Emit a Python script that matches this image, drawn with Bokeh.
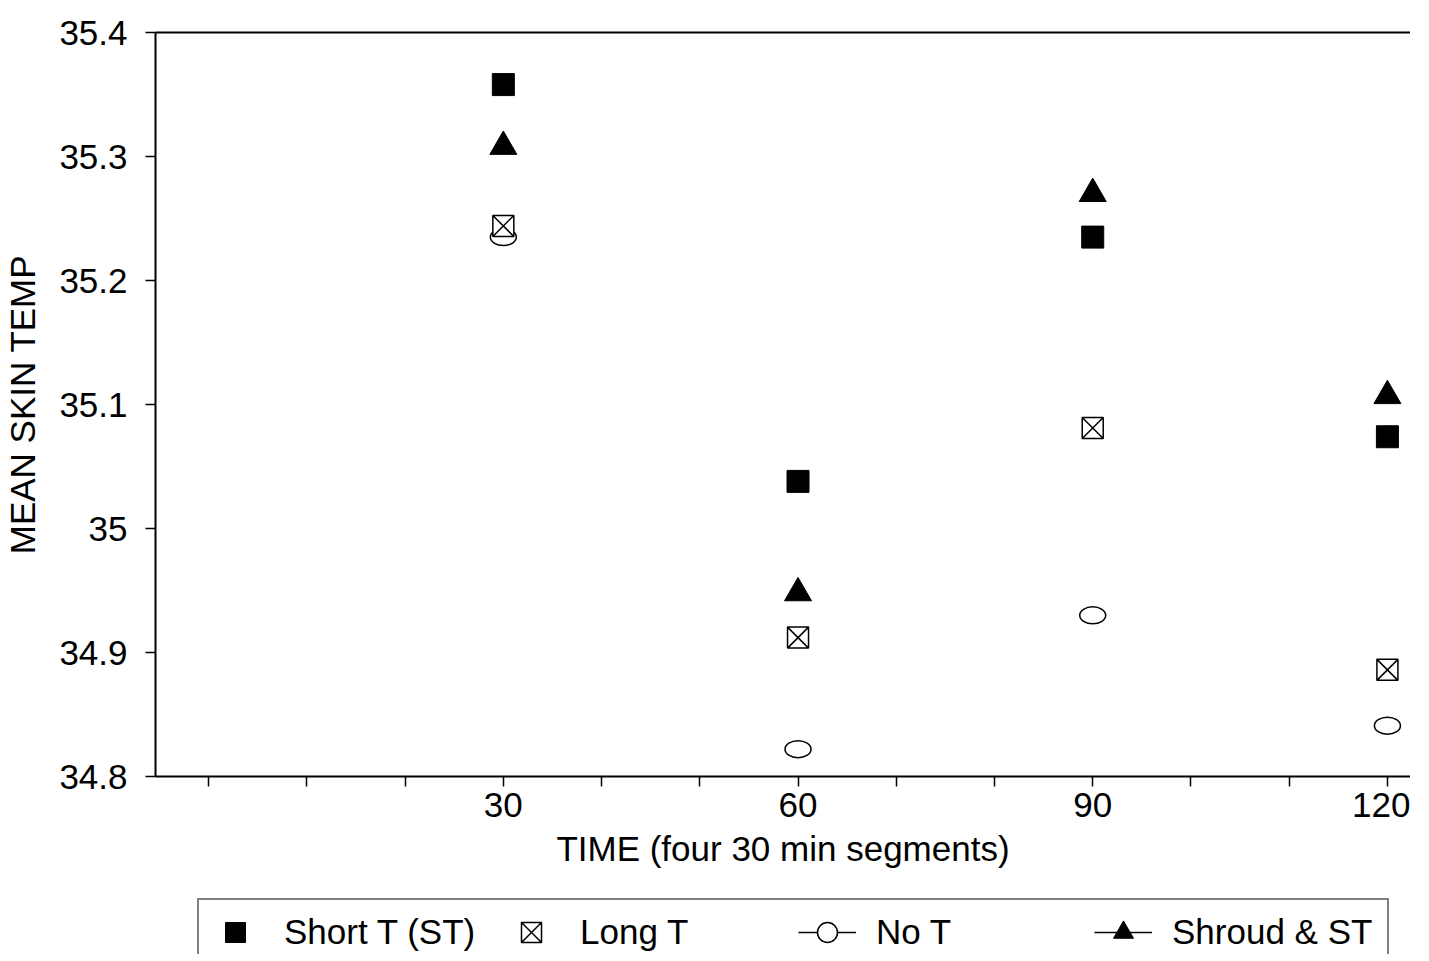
import numpy as np
from bokeh.plotting import figure
from bokeh.layouts import column
from bokeh.models import Range1d, FixedTicker, LinearAxis, Legend, LegendItem
from bokeh.embed import file_html
from bokeh.resources import INLINE

# ---- data ----
times = [30, 60, 90, 120]
short_t = [35.358, 35.038, 35.235, 35.074]
long_t = [35.244, 34.912, 35.081, 34.886]
no_t = [35.235, 34.822, 34.930, 34.841]
shroud_st = [35.308, 34.948, 35.270, 35.107]
series_labels = ["Short T (ST)", "Long T", "No T", "Shroud & ST"]

x_major_ticks = [30, 60, 90, 120]
x_minor_ticks = [0, 10, 20, 40, 50, 70, 80, 100, 110]
y_ticks = [34.8, 34.9, 35.0, 35.1, 35.2, 35.3, 35.4]
y_tick_labels = ["34.8", "34.9", "35", "35.1", "35.2", "35.3", "35.4"]

FONT = "Liberation Sans"
W = 1410

p = figure(width=W, height=889,
           x_range=Range1d(-5.41, 122.35), y_range=Range1d(34.8, 35.4),
           output_backend="svg", toolbar_location=None,
           min_border_left=150, min_border_right=0,
           min_border_top=32, min_border_bottom=113)
p.grid.visible = False
p.outline_line_color = None
p.background_fill_color = "white"
p.border_fill_color = "white"

xa = p.below[0]
ya = p.left[0]

# x axis
xa.ticker = FixedTicker(ticks=x_major_ticks, minor_ticks=x_minor_ticks)
xa.axis_line_width = 2
xa.axis_line_color = "black"
xa.major_tick_out = 10
xa.major_tick_in = 0
xa.minor_tick_out = 10
xa.minor_tick_in = 0
xa.major_tick_line_width = 1.5
xa.minor_tick_line_width = 1.5
xa.major_tick_line_color = "black"
xa.minor_tick_line_color = "black"
xa.major_label_text_font = FONT
xa.major_label_text_font_size = "35px"
xa.major_label_text_color = "black"
xa.major_label_standoff = 6
xa.axis_label = "TIME (four 30 min segments)"
xa.axis_label_text_font = FONT
xa.axis_label_text_font_size = "35px"
xa.axis_label_text_font_style = "normal"
xa.axis_label_text_color = "black"
xa.axis_label_standoff = 9

# y axis
ya.ticker = FixedTicker(ticks=y_ticks, minor_ticks=[])
ya.major_label_overrides = {t: s for t, s in zip(y_ticks, y_tick_labels)}
ya.axis_line_width = 2
ya.axis_line_color = "black"
ya.major_tick_out = 10
ya.major_tick_in = 0
ya.major_tick_line_width = 1.5
ya.major_tick_line_color = "black"
ya.minor_tick_line_color = None
ya.major_label_text_font = FONT
ya.major_label_text_font_size = "35px"
ya.major_label_text_color = "black"
ya.major_label_standoff = 18
ya.axis_label = "MEAN SKIN TEMP"
ya.axis_label_text_font = FONT
ya.axis_label_text_font_size = "35px"
ya.axis_label_text_font_style = "normal"
ya.axis_label_text_color = "black"
ya.axis_label_standoff = 14

# top border line
top = LinearAxis(ticker=FixedTicker(ticks=[]), axis_line_width=2, axis_line_color="black",
                 major_tick_line_color=None, minor_tick_line_color=None,
                 major_label_text_font_size="0px", major_tick_out=0, major_tick_in=0,
                 major_label_standoff=0)
p.add_layout(top, "above")

# glyphs
sq_style = dict(marker="square", size=22, fill_color="black", line_color="black")
sqx_style = dict(marker="square_x", size=21, fill_color="white", line_color="black", line_width=1.5)
ell_style = dict(width=26, height=17, width_units="screen", height_units="screen",
                 fill_color="white", line_color="black", line_width=1.5)
tri_style = dict(marker="triangle", size=27, fill_color="black", line_color="black")

p.scatter(times, short_t, **sq_style)
p.ellipse(x=times, y=no_t, **ell_style)
p.scatter(times, long_t, **sqx_style)
p.scatter(times, shroud_st, **tri_style)

# legend strip (separate canvas under the chart)
p2 = figure(width=W, height=65, x_range=Range1d(0, 1), y_range=Range1d(0, 1),
            output_backend="svg", toolbar_location=None,
            x_axis_location=None, y_axis_location=None,
            min_border_left=0, min_border_right=0, min_border_top=0, min_border_bottom=0)
p2.grid.visible = False
p2.outline_line_color = None
p2.background_fill_color = "white"
p2.border_fill_color = "white"

nan = np.array([np.nan])
g_short = p2.scatter(nan, nan, **sq_style)
g_long = p2.scatter(nan, nan, **sqx_style)
l_no = p2.line(nan, nan, line_color="black", line_width=1.5)
g_no = p2.scatter(nan, nan, marker="circle", size=20, fill_color="white",
                  line_color="black", line_width=1.5)
l_sh = p2.line(nan, nan, line_color="black", line_width=1.5)
g_sh = p2.scatter(nan, nan, **tri_style)

items = [
    LegendItem(label=series_labels[0], renderers=[g_short]),
    LegendItem(label=series_labels[1], renderers=[g_long]),
    LegendItem(label=series_labels[2], renderers=[l_no, g_no]),
    LegendItem(label=series_labels[3], renderers=[l_sh, g_sh]),
]
legend = Legend(items=items, orientation="horizontal", location=(42, -12),
                glyph_width=58, glyph_height=50, label_height=50,
                label_width=208, label_standoff=20, spacing=10, padding=7,
                border_line_color="black", border_line_width=2,
                background_fill_color="white", background_fill_alpha=1,
                label_text_font=FONT, label_text_font_size="35px",
                label_text_color="black", margin=0)
p2.add_layout(legend, "center")

open("out.html", "w").write(file_html(column(p, p2, spacing=0), INLINE))
